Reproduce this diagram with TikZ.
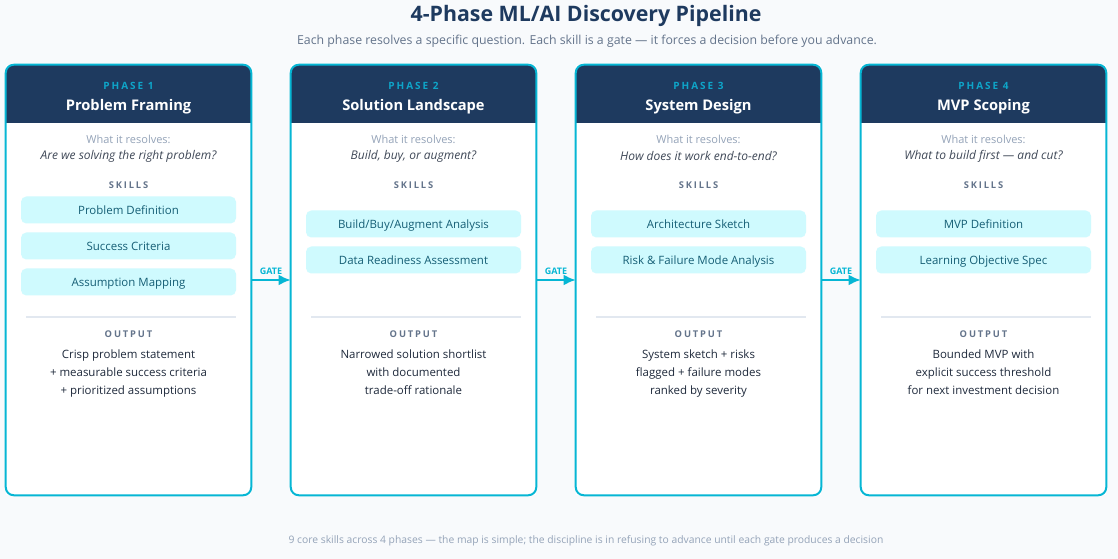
\documentclass[tikz,border=0pt]{standalone}
\usepackage{fontspec}
\setmainfont{Open Sans}
\newfontfamily\spacedfont{Open Sans}[LetterSpace=20]
\usetikzlibrary{arrows.meta}
\definecolor{navy}{HTML}{1E3A5F}
\definecolor{edge}{HTML}{06B6D4}
\definecolor{phasec}{HTML}{0EA5C9}
\definecolor{skillbg}{HTML}{CFFAFE}
\definecolor{skilltx}{HTML}{155E75}
\definecolor{muted}{HTML}{64748B}
\definecolor{faint}{HTML}{94A3B8}
\definecolor{ink}{HTML}{1E293B}
\definecolor{paper}{HTML}{F8FAFC}
\definecolor{rule}{HTML}{E2E8F0}
\tikzset{
  card/.style={fill=white,minimum width=245*0.75pt,minimum height=430*0.75pt,inner sep=0pt},
  cardedge/.style={draw=edge,line width=1.5pt,rounded corners=6pt},
  phase/.style={text=phasec,font=\spacedfont\bfseries\fontsize{7.5}{8}\selectfont},
  ttl/.style={text=white,font=\bfseries\fontsize{11}{13}\selectfont},
  hint/.style={text=faint,font=\fontsize{8.25}{10}\selectfont},
  ask/.style={text=ink!85,font=\itshape\fontsize{9}{11}\selectfont},
  caps/.style={text=muted,font=\spacedfont\bfseries\fontsize{7}{8}\selectfont},
  skill/.style={fill=skillbg,rounded corners=4pt,minimum width=215*0.75pt,
    minimum height=27*0.75pt,inner sep=0pt,text height=8pt,text depth=0.5pt,
    text=skilltx,font=\fontsize{8.6}{11}\selectfont},
  outtxt/.style={text=ink,align=center,font=\fontsize{8.6}{13.5}\selectfont,
    execute at end node=\strut},
  gate/.style={-{Latex[length=9pt,width=8pt]},draw=edge,line width=1.5pt},
  gatelbl/.style={text=edge,inner sep=1pt,font=\bfseries\fontsize{6.75}{8}\selectfont},
}

\begin{document}
\begin{tikzpicture}[x=0.75pt,y=-0.75pt]
    \fill[paper] (0,0) rectangle (1118,559);
    \useasboundingbox (0,0) rectangle (1118,559);
    \node[text=navy,font=\bfseries\fontsize{16}{19}\selectfont] (title) at (586,16) {4-Phase ML/AI Discovery Pipeline};
    \node[text=muted,font=\fontsize{9.25}{11}\selectfont] (sub) at (587,41) {Each phase resolves a specific question. Each skill is a gate — it forces a decision before you advance.};
    \coordinate (headline) at (0,123);
    % the four phase cards
    \foreach \i/\cx/\name/\q/\out in {
      1/128.5/Problem Framing/Are we solving the right problem?/{Crisp problem statement\\+ measurable success criteria\\+ prioritized assumptions},
      2/413.5/Solution Landscape/{Build, buy, or augment?}/{Narrowed solution shortlist\\with documented\\trade-off rationale},
      3/698.5/System Design/How does it work end-to-end?/{System sketch + risks\\flagged + failure modes\\ranked by severity},
      4/983.5/MVP Scoping/What to build first — and cut?/{Bounded MVP with\\explicit success threshold\\for next investment decision}} {
      \node[card] (card\i) at (\cx,280) {};
      \fill[navy] (card\i.west |- headline) [rounded corners=6pt] -- (card\i.north west)
        -- (card\i.north east) [sharp corners] -- (card\i.east |- headline) -- cycle;
      \draw[cardedge] (card\i.south west) rectangle (card\i.north east);
      \node[phase] (phase\i) at (\cx,85.5) {PHASE \i};
      \node[ttl] (name\i) at (\cx,107) {\name};
      \node[hint] (hint\i) at (\cx,139) {What it resolves:};
      \node[ask] (ask\i) at (\cx,156) {\q};
      \node[caps] (skills\i) at (\cx,185) {SKILLS};
      \draw[rule,line width=1.2pt] (\cx-102.5,317) -- (\cx+107.5,317);
      \node[caps] (output\i) at (\cx,334) {OUTPUT};
      \node[outtxt] (out\i) at (\cx,375) {\out};
    }
    % skills
    \node[skill] (s11) at (128.5,210) {Problem Definition};
    \node[skill] (s12) at (128.5,246) {Success Criteria};
    \node[skill] (s13) at (128.5,282) {Assumption Mapping};
    \node[skill] (s21) at (413.5,224) {Build/Buy/Augment Analysis};
    \node[skill] (s22) at (413.5,260) {Data Readiness Assessment};
    \node[skill] (s31) at (698.5,224) {Architecture Sketch};
    \node[skill] (s32) at (698.5,260) {Risk \& Failure Mode Analysis};
    \node[skill] (s41) at (983.5,224) {MVP Definition};
    \node[skill] (s42) at (983.5,260) {Learning Objective Spec};
    % gates
    \draw[gate] (card1.east) -- (card2.west) node[gatelbl,midway,above=2pt] (g1) {GATE};
    \draw[gate] (card2.east) -- (card3.west) node[gatelbl,midway,above=2pt] (g2) {GATE};
    \draw[gate] (card3.east) -- (card4.west) node[gatelbl,midway,above=2pt] (g3) {GATE};
    \node[text=faint,font=\fontsize{7.75}{9}\selectfont] (foot) at (586,541) {9 core skills across 4 phases — the map is simple; the discipline is in refusing to advance until each gate produces a decision};
  \end{tikzpicture}
\end{document}
